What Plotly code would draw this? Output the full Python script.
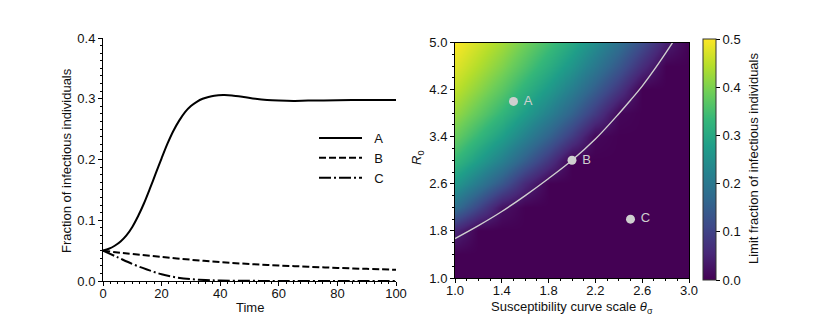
import plotly.graph_objects as go

# ---- left panel data ----
time_a = [0, 2, 4, 6, 8, 10, 12, 14, 16, 18, 20, 22, 24, 26, 28, 30, 32, 34, 36, 38, 41, 44, 48, 52, 56, 60, 65, 70, 80, 90, 100]
curve_a = [0.05, 0.053, 0.058, 0.065, 0.075, 0.089, 0.107, 0.128, 0.152, 0.177, 0.202, 0.226, 0.247, 0.264, 0.278,
           0.288, 0.295, 0.3, 0.303, 0.305, 0.306, 0.3055, 0.303, 0.3, 0.298, 0.297, 0.2965, 0.297, 0.2975, 0.298, 0.298]
time_b = [0, 5, 10, 20, 30, 40, 50, 60, 70, 80, 90, 100]
curve_b = [0.05, 0.047, 0.0445, 0.0395, 0.035, 0.031, 0.028, 0.0255, 0.0235, 0.0215, 0.02, 0.0185]
time_c = [0, 5, 10, 15, 20, 25, 30, 35, 40, 50, 60, 80, 100]
curve_c = [0.05, 0.039, 0.028, 0.019, 0.011, 0.006, 0.003, 0.0015, 0.0008, 0.0003, 0.0001, 0.0, 0.0]
series_names = ["A", "B", "C"]

# ---- right panel data ----
theta_grid = [1.0, 1.2, 1.4, 1.6, 1.8, 2.0, 2.2, 2.4, 2.6, 2.8, 3.0]
r0_grid = [1.0, 1.4, 1.8, 2.2, 2.6, 3.0, 3.4, 3.8, 4.2, 4.6, 5.0]
# rows = r0, columns = theta
limit_fraction = [
    [0, 0, 0, 0, 0, 0, 0, 0, 0, 0, 0],
    [0, 0, 0, 0, 0, 0, 0, 0, 0, 0, 0],
    [0.054, 0, 0, 0, 0, 0, 0, 0, 0, 0, 0],
    [0.181, 0.106, 0.024, 0, 0, 0, 0, 0, 0, 0, 0],
    [0.268, 0.205, 0.136, 0.058, 0, 0, 0, 0, 0, 0, 0],
    [0.333, 0.278, 0.218, 0.150, 0.078, 0, 0, 0, 0, 0, 0],
    [0.382, 0.333, 0.280, 0.221, 0.157, 0.088, 0.009, 0, 0, 0, 0],
    [0.420, 0.377, 0.330, 0.276, 0.219, 0.158, 0.087, 0.008, 0, 0, 0],
    [0.452, 0.413, 0.370, 0.321, 0.270, 0.214, 0.150, 0.079, 0, 0, 0],
    [0.478, 0.442, 0.403, 0.359, 0.311, 0.261, 0.202, 0.137, 0.065, 0, 0],
    [0.500, 0.467, 0.431, 0.390, 0.347, 0.300, 0.246, 0.186, 0.120, 0.045, 0],
]
boundary_theta = [1.0, 1.2, 1.4, 1.6, 1.8, 2.0, 2.2, 2.4, 2.5, 2.6, 2.7, 2.8, 2.9]
boundary_r0 = [1.67, 1.89, 2.13, 2.40, 2.69, 3.0, 3.36, 3.79, 4.02, 4.26, 4.53, 4.82, 5.12]
point_labels = ["A", "B", "C"]
point_theta = [1.5, 2.0, 2.5]
point_r0 = [4.0, 3.0, 2.0]

FONT = "Liberation Sans, Arial, sans-serif"
TXT = "#111111"
GRAY = "#cfcfcf"
FS = 13
NB = "\u00a0\u00a0"
W, H = 822, 308  # page body adds an 8px offset


def px(v):
    return v / W


def py(v):
    return 1 - v / H


fig = go.Figure()

fig.add_trace(go.Scatter(x=time_a, y=curve_a, mode="lines", name=NB + series_names[0],
                         line=dict(color="black", width=2, shape="spline", smoothing=0.8), xaxis="x", yaxis="y"))
fig.add_trace(go.Scatter(x=time_b, y=curve_b, mode="lines", name=NB + series_names[1],
                         line=dict(color="black", width=2, dash="7px,3px", shape="spline"), xaxis="x", yaxis="y"))
fig.add_trace(go.Scatter(x=time_c, y=curve_c, mode="lines", name=NB + series_names[2],
                         line=dict(color="black", width=2, dash="12px,3px,2px,3px", shape="spline"), xaxis="x", yaxis="y"))

fig.add_trace(go.Heatmap(
    x=theta_grid, y=r0_grid, z=limit_fraction, colorscale="Viridis", zmin=0, zmax=0.5, zsmooth="best",
    xaxis="x2", yaxis="y2", showlegend=False, hoverinfo="skip",
    colorbar=dict(
        x=px(695), xanchor="left", xpad=0, ypad=0, y=py(151.5), yanchor="middle", len=241 / H, lenmode="fraction",
        thickness=13, outlinewidth=1, outlinecolor="#333", ticks="outside", ticklen=4, tickwidth=1,
        tickcolor="black", tickvals=[0, 0.1, 0.2, 0.3, 0.4, 0.5], ticktext=["0.0", "0.1", "0.2", "0.3", "0.4", "0.5"],
        tickfont=dict(size=FS, color=TXT, family=FONT),
    ),
))
fig.add_trace(go.Scatter(x=boundary_theta, y=boundary_r0, mode="lines", line=dict(color=GRAY, width=1.4, shape="spline"),
                         xaxis="x2", yaxis="y2", showlegend=False, hoverinfo="skip"))
fig.add_trace(go.Scatter(x=point_theta, y=point_r0, mode="markers+text", text=["\u00a0" + t for t in point_labels],
                         textposition="middle right",
                         textfont=dict(color=GRAY, size=FS, family=FONT),
                         marker=dict(color=GRAY, size=9), xaxis="x2", yaxis="y2", showlegend=False, hoverinfo="skip"))

axis_common = dict(showgrid=False, zeroline=False, showline=True, linecolor="black", linewidth=1,
                   ticks="outside", ticklen=4, tickwidth=1, tickcolor="black", automargin=False,
                   tickfont=dict(size=FS, color=TXT, family=FONT))

title_font = dict(size=FS, color=TXT, family=FONT)
annotations = [
    dict(text="Time", x=px((95 + 388) / 2), y=py(299), xref="paper", yref="paper",
         showarrow=False, font=title_font, xanchor="center", yanchor="middle"),
    dict(text="Fraction of infectious individuals", x=px(58), y=py(153), xref="paper", yref="paper",
         showarrow=False, font=title_font, textangle=-90, xanchor="center", yanchor="middle"),
    dict(text="Susceptibility curve scale <i>θ</i><sub>σ</sub>", x=px((447 + 681) / 2), y=py(299),
         xref="paper", yref="paper", showarrow=False, font=title_font, xanchor="center", yanchor="middle"),
    dict(text="<i>R</i><sub>0</sub>", x=px(409), y=py(150), xref="paper", yref="paper",
         showarrow=False, font=title_font, textangle=-90, xanchor="center", yanchor="middle"),
    dict(text="Limit fraction of infectious individuals", x=px(745), y=py(151), xref="paper", yref="paper",
         showarrow=False, font=title_font, textangle=-90, xanchor="center", yanchor="middle"),
]

fig.update_layout(
    width=W, height=H, margin=dict(l=0, r=0, t=0, b=0, autoexpand=False),
    paper_bgcolor="white", plot_bgcolor="white",
    font=dict(family=FONT, color=TXT),
    showlegend=True,
    legend=dict(x=px(306), y=py(115), xanchor="left", yanchor="top", bgcolor="rgba(0,0,0,0)",
                font=dict(size=FS, family=FONT, color=TXT), itemwidth=43, tracegroupgap=0),
    annotations=annotations,
    xaxis=dict(domain=[px(95), px(388)], range=[0, 100], tickvals=[0, 20, 40, 60, 80, 100],
               ticklabelstandoff=-4,
               minor=dict(dtick=2.5, ticks="outside", ticklen=2, tickcolor="black"), **axis_common),
    yaxis=dict(domain=[py(273), py(30)], range=[0, 0.4], tickvals=[0, 0.1, 0.2, 0.3, 0.4],
               ticktext=["0.0", "0.1", "0.2", "0.3", "0.4"],
               minor=dict(dtick=0.0125, ticks="outside", ticklen=2, tickcolor="black"), **axis_common),
    xaxis2=dict(domain=[px(447), px(681)], range=[1, 3], tickvals=[1.0, 1.4, 1.8, 2.2, 2.6, 3.0],
                ticktext=["1.0", "1.4", "1.8", "2.2", "2.6", "3.0"], mirror=True, ticklabelstandoff=-4,
                minor=dict(dtick=0.1, ticks="outside", ticklen=2, tickcolor="black"),
                anchor="y2", **axis_common),
    yaxis2=dict(domain=[py(270), py(34.5)], range=[1, 5], tickvals=[1.0, 1.8, 2.6, 3.4, 4.2, 5.0],
                ticktext=["1.0", "1.8", "2.6", "3.4", "4.2", "5.0"], mirror=True,
                minor=dict(dtick=0.2, ticks="outside", ticklen=2, tickcolor="black"),
                anchor="x2", **axis_common),
)

fig.write_html("out.html")
